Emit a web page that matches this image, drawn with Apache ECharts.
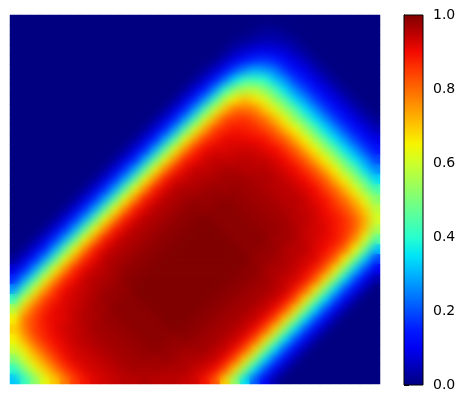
<!DOCTYPE html>
<html><head><meta charset="utf-8">
<script src="https://cdn.jsdelivr.net/npm/echarts@6/dist/echarts.min.js"></script>
<style>
html,body{margin:0;padding:0;background:#fff}
#c{position:absolute;left:0;top:0;width:464px;height:403px}
#wrap{position:absolute;left:10px;top:15px;width:370px;height:369px;overflow:hidden}
#soft{position:absolute;left:0;top:0;width:370px;height:369px;filter:blur(4px)}
</style>
</head><body><div id="c"></div><div id="wrap"><div id="soft"></div></div>
<script>
// column / row categories of the image grid (37 x 37 cells)
const colCats = Array.from({length: 37}, (_, i) => String(i));
const rowCats = Array.from({length: 37}, (_, i) => String(i));
// colorbar ticks
const cbTicks = [0, 0.2, 0.4, 0.6, 0.8, 1.0];
// jet colormap samples at 0, 0.05, ..., 1
const jetColors = ['#000080','#0000b9','#0000f3','#001aff','#004dff','#0080ff','#00b3ff','#00e5f7','#29ffcd','#52ffa4','#7bff7b','#a4ff52','#cdff29','#f7f500','#ffc600','#ff9700','#ff6800','#ff3900','#f30900','#b90000','#800000'];
// image values, row by row from the top
const heatRows = [
[0,0,0,0,0,0,0,0,0,0,0,0,0,0,0,0,0,0,0,0,0,0,0,0,0,0,0,0,0,0,0,0,0,0,0,0,0],
[0,0,0,0,0,0,0,0,0,0,0,0,0,0,0,0,0,0,0,0,0,0,0,0,.01,.02,.02,.01,0,0,0,0,0,0,0,0,0],
[0,0,0,0,0,0,0,0,0,0,0,0,0,0,0,0,0,0,0,0,0,0,.01,.02,.03,.04,.04,.03,.02,0,0,0,0,0,0,0,0],
[0,0,0,0,0,0,0,0,0,0,0,0,0,0,0,0,0,0,0,0,0,.01,.04,.06,.08,.09,.08,.07,.04,.02,0,0,0,0,0,0,0],
[0,0,0,0,0,0,0,0,0,0,0,0,0,0,0,0,0,0,0,0,.01,.05,.09,.13,.16,.17,.15,.11,.08,.05,.02,0,0,0,0,0,0],
[0,0,0,0,0,0,0,0,0,0,0,0,0,0,0,0,0,0,0,.02,.06,.12,.19,.25,.29,.27,.24,.17,.12,.09,.05,.02,0,0,0,0,0],
[0,0,0,0,0,0,0,0,0,0,0,0,0,0,0,0,0,0,.02,.07,.14,.23,.34,.42,.42,.40,.32,.26,.18,.13,.09,.05,.02,0,0,0,0],
[0,0,0,0,0,0,0,0,0,0,0,0,0,0,0,0,0,.02,.08,.15,.26,.40,.52,.56,.57,.51,.44,.34,.26,.19,.13,.09,.05,.02,0,0,0],
[0,0,0,0,0,0,0,0,0,0,0,0,0,0,0,0,.02,.08,.16,.27,.42,.58,.66,.71,.67,.62,.53,.45,.34,.27,.19,.13,.09,.05,.02,0,0],
[0,0,0,0,0,0,0,0,0,0,0,0,0,0,0,.02,.08,.16,.28,.44,.60,.71,.79,.79,.77,.70,.63,.54,.46,.35,.27,.19,.13,.09,.05,.02,0],
[0,0,0,0,0,0,0,0,0,0,0,0,0,0,.02,.08,.16,.28,.44,.61,.73,.83,.85,.86,.83,.79,.72,.64,.54,.46,.35,.27,.19,.13,.09,.05,.02],
[0,0,0,0,0,0,0,0,0,0,0,0,0,.02,.08,.16,.28,.45,.62,.74,.84,.87,.89,.88,.87,.84,.80,.72,.65,.55,.46,.35,.27,.19,.13,.09,.05],
[0,0,0,0,0,0,0,0,0,0,0,0,.02,.08,.16,.29,.45,.63,.75,.85,.88,.91,.91,.91,.90,.89,.85,.81,.73,.65,.55,.46,.35,.27,.19,.13,.09],
[0,0,0,0,0,0,0,0,0,0,0,.02,.08,.16,.29,.46,.63,.76,.86,.90,.92,.92,.93,.93,.93,.91,.90,.86,.81,.73,.65,.55,.46,.35,.27,.19,.13],
[0,0,0,0,0,0,0,0,0,0,.02,.08,.16,.29,.46,.63,.76,.87,.90,.93,.94,.94,.94,.95,.94,.94,.92,.90,.86,.81,.73,.65,.55,.46,.35,.27,.19],
[0,0,0,0,0,0,0,0,0,.02,.08,.17,.29,.46,.64,.77,.87,.91,.94,.94,.95,.96,.96,.95,.95,.95,.94,.92,.90,.86,.81,.73,.65,.54,.46,.34,.26],
[0,0,0,0,0,0,0,0,.02,.08,.17,.29,.46,.64,.77,.88,.92,.94,.95,.96,.96,.97,.97,.97,.96,.96,.95,.94,.92,.90,.86,.81,.72,.64,.54,.45,.34],
[0,0,0,0,0,0,0,.02,.08,.17,.29,.46,.64,.77,.88,.92,.95,.96,.96,.97,.98,.97,.98,.97,.97,.96,.95,.95,.94,.92,.90,.85,.80,.72,.63,.53,.44],
[0,0,0,0,0,0,.02,.08,.17,.29,.46,.64,.77,.88,.92,.95,.96,.97,.98,.98,.98,.99,.98,.98,.97,.97,.96,.95,.95,.94,.91,.89,.84,.79,.71,.62,.52],
[0,0,0,0,0,.02,.08,.17,.29,.46,.64,.77,.88,.92,.95,.96,.97,.98,.99,.98,.99,.99,.99,.98,.98,.97,.97,.96,.95,.94,.93,.90,.87,.83,.77,.69,.58],
[0,0,0,0,.02,.08,.17,.29,.46,.64,.77,.88,.92,.95,.96,.97,.98,.99,.99,1,.99,.99,.99,.99,.98,.98,.97,.97,.95,.95,.93,.91,.89,.86,.81,.73,.61],
[0,0,0,.02,.08,.17,.29,.46,.64,.77,.88,.92,.95,.96,.97,.98,.99,.99,1,1,1,.99,.99,.99,.99,.98,.98,.97,.96,.94,.93,.92,.89,.86,.81,.71,.56],
[0,0,.02,.08,.17,.29,.46,.64,.77,.88,.92,.95,.96,.97,.98,.99,.99,1,1,1,1,1,.99,.99,.99,.99,.97,.97,.96,.94,.93,.91,.89,.85,.76,.62,.46],
[0,.02,.08,.16,.29,.46,.64,.77,.88,.92,.95,.96,.97,.98,.99,.99,1,1,1,1,1,1,1,.99,.99,.98,.98,.96,.95,.95,.92,.90,.86,.79,.65,.49,.32],
[.02,.08,.16,.28,.45,.63,.76,.87,.91,.95,.96,.97,.98,.99,.99,1,1,1,1,1,1,1,1,1,.98,.98,.97,.96,.95,.93,.92,.87,.80,.66,.50,.33,.19],
[.08,.16,.28,.45,.63,.76,.87,.91,.94,.95,.97,.98,.99,.99,1,1,1,1,1,1,1,1,1,.99,.99,.97,.96,.96,.94,.92,.88,.81,.67,.51,.33,.20,.10],
[.16,.28,.44,.62,.75,.86,.90,.94,.95,.96,.97,.99,.99,1,1,1,1,1,1,1,1,1,.99,.99,.98,.97,.96,.94,.93,.89,.82,.68,.52,.34,.20,.10,.04],
[.27,.43,.61,.74,.85,.90,.93,.94,.96,.97,.98,.98,1,1,1,1,1,1,1,1,1,.99,.99,.98,.97,.97,.95,.94,.89,.82,.68,.52,.34,.20,.11,.04,0],
[.42,.60,.73,.84,.88,.92,.93,.95,.96,.98,.98,.99,.99,1,1,1,1,1,1,1,.99,.99,.98,.97,.97,.95,.94,.90,.83,.68,.52,.35,.21,.11,.04,0,0],
[.57,.71,.82,.87,.91,.92,.94,.95,.97,.97,.99,.99,.99,.99,1,1,1,1,1,.99,.99,.98,.97,.97,.95,.94,.90,.83,.69,.53,.35,.21,.11,.04,0,0,0],
[.65,.79,.84,.89,.91,.92,.94,.96,.96,.98,.98,.99,.99,.99,.99,1,1,1,.99,.99,.98,.97,.97,.95,.94,.90,.83,.69,.53,.35,.21,.11,.04,0,0,0,0],
[.69,.78,.85,.88,.91,.93,.94,.95,.97,.97,.98,.98,.99,.99,.99,.99,1,.99,.99,.98,.97,.97,.95,.94,.90,.83,.69,.53,.35,.21,.11,.04,0,0,0,0,0],
[.65,.74,.82,.87,.90,.92,.94,.95,.96,.97,.97,.98,.98,.99,.99,.99,.98,.99,.98,.97,.97,.95,.94,.90,.83,.69,.53,.35,.21,.11,.04,0,0,0,0,0,0],
[.60,.67,.76,.83,.88,.91,.93,.94,.95,.96,.97,.97,.98,.98,.99,.98,.98,.97,.97,.97,.95,.94,.90,.83,.69,.53,.35,.21,.11,.04,0,0,0,0,0,0,0],
[.51,.61,.69,.77,.84,.89,.92,.93,.94,.95,.96,.97,.97,.98,.97,.98,.97,.96,.96,.95,.94,.90,.83,.69,.53,.35,.21,.11,.04,0,0,0,0,0,0,0,0],
[.41,.52,.62,.70,.78,.85,.89,.92,.93,.94,.95,.96,.97,.96,.97,.96,.96,.96,.94,.93,.90,.83,.69,.53,.35,.21,.11,.04,0,0,0,0,0,0,0,0,0],
[.32,.42,.52,.63,.70,.78,.85,.89,.92,.93,.94,.95,.95,.96,.95,.95,.95,.94,.93,.89,.83,.69,.53,.35,.21,.11,.04,0,0,0,0,0,0,0,0,0,0]
];

const cells = [];
heatRows.forEach((row, r) => row.forEach((v, c) => cells.push([c, r, v])));

const visual = {show: false, type: 'continuous', min: 0, max: 1, seriesIndex: 0, inRange: {color: jetColors}};
const heatSeries = {type: 'heatmap', xAxisIndex: 0, yAxisIndex: 0, data: cells,
  progressive: 0, itemStyle: {borderWidth: 0}, emphasis: {disabled: true}};

const chart = echarts.init(document.getElementById('c'), null, {renderer: 'canvas'});
const stops = jetColors.map((col, i) => ({offset: i / (jetColors.length - 1), color: col}));
chart.setOption({
  animation: false,
  backgroundColor: '#ffffff',
  grid: [
    {left: 10, top: 15, width: 370, height: 369},
    {left: 404, top: 15, width: 19, height: 370}
  ],
  xAxis: [
    {type: 'category', gridIndex: 0, data: colCats, show: false},
    {type: 'value', gridIndex: 1, min: 0, max: 1, show: false}
  ],
  yAxis: [
    {type: 'category', gridIndex: 0, data: rowCats, inverse: true, show: false},
    {type: 'value', gridIndex: 1, min: cbTicks[0], max: cbTicks[cbTicks.length - 1], interval: 0.2, position: 'right',
     axisLine: {show: true, lineStyle: {color: '#000', width: 1}},
     axisTick: {show: true, length: 5, lineStyle: {color: '#000', width: 1}},
     axisLabel: {show: true, margin: 10, color: '#000', fontSize: 14, fontFamily: 'DejaVu Sans',
                 formatter: v => v.toFixed(1)},
     splitLine: {show: false}}
  ],
  visualMap: visual,
  series: [heatSeries],
  graphic: [{
    type: 'rect', z: 50,
    shape: {x: 404, y: 15, width: 19, height: 370},
    style: {fill: new echarts.graphic.LinearGradient(0, 1, 0, 0, stops), stroke: '#000', lineWidth: 1}
  }]
});

// softened copy of the same image, laid over it (emulates the smooth image interpolation)
const soft = echarts.init(document.getElementById('soft'), null, {renderer: 'canvas'});
soft.setOption({
  animation: false,
  backgroundColor: 'transparent',
  grid: {left: 0, top: 0, right: 0, bottom: 0},
  xAxis: {type: 'category', data: colCats, show: false},
  yAxis: {type: 'category', data: rowCats, inverse: true, show: false},
  visualMap: visual,
  series: [heatSeries]
});
</script>
</body></html>
